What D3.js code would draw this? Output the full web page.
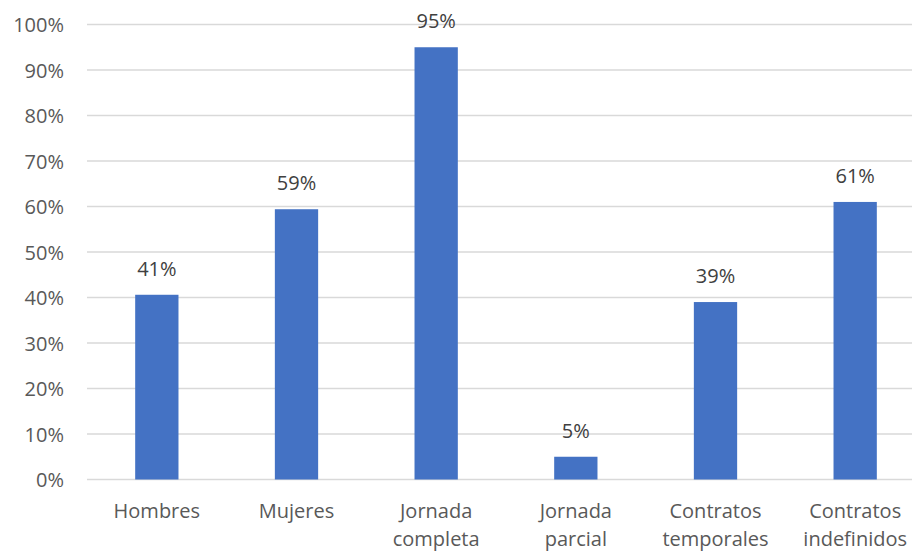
<!DOCTYPE html>
<html>
<head>
<meta charset="utf-8">
<script src="https://cdn.jsdelivr.net/npm/d3@7"></script>
<style>
  html, body { margin: 0; padding: 0; background: #fff; }
  svg { display: block; }
  text { font-family: "Open Sans", sans-serif; }
</style>
</head>
<body>
<svg id="chart" width="912" height="552"></svg>
<script>
const categories = ["Hombres", "Mujeres", "Jornada completa", "Jornada parcial", "Contratos temporales", "Contratos indefinidos"];
const categoryLines = [["Hombres"], ["Mujeres"], ["Jornada", "completa"], ["Jornada", "parcial"], ["Contratos", "temporales"], ["Contratos", "indefinidos"]];
const values = [0.406, 0.594, 0.950, 0.050, 0.390, 0.610];
const valueLabels = ["41%", "59%", "95%", "5%", "39%", "61%"];
const yTicks = [0, 0.1, 0.2, 0.3, 0.4, 0.5, 0.6, 0.7, 0.8, 0.9, 1.0];

(function () {
const svg = d3.select("#chart");
const plotLeft = 87, plotRight = 925, plotTop = 24.5, plotBottom = 479.5;

const x = d3.scaleBand().domain(categories).range([plotLeft, plotRight]).paddingInner(0.69).paddingOuter(0.345);
const y = d3.scaleLinear().domain([0, 1]).range([plotBottom, plotTop]);

// gridlines
svg.append("g").selectAll("line").data(yTicks).join("line")
  .attr("x1", plotLeft).attr("x2", 912)
  .attr("y1", d => y(d)).attr("y2", d => y(d))
  .attr("stroke", "#d9d9d9").attr("stroke-width", 1.5);

// y axis labels
const yAxis = d3.axisLeft(y).tickValues(yTicks).tickFormat(d3.format(".0%")).tickSize(0).tickPadding(0);
const yg = svg.append("g").attr("transform", "translate(64,0)").call(yAxis);
yg.select(".domain").remove();
yg.selectAll("text").attr("font-size", 20).attr("fill", "#595959")
  .attr("font-family", "'Open Sans', sans-serif").attr("dy", "0.35em");

// bars
svg.append("g").selectAll("rect").data(values).join("rect")
  .attr("x", (d, i) => x(categories[i]))
  .attr("width", x.bandwidth())
  .attr("y", d => y(d))
  .attr("height", d => y(0) - y(d))
  .attr("fill", "#4472C4");

// value labels
svg.append("g").selectAll("text").data(values).join("text")
  .attr("x", (d, i) => x(categories[i]) + x.bandwidth() / 2)
  .attr("y", d => y(d) - 19)
  .attr("text-anchor", "middle")
  .attr("font-size", 20).attr("fill", "#404040")
  .text((d, i) => valueLabels[i]);

// category labels
const cg = svg.append("g").selectAll("text").data(categories).join("text")
  .attr("x", d => x(d) + x.bandwidth() / 2)
  .attr("y", 518)
  .attr("text-anchor", "middle")
  .attr("font-size", 20).attr("fill", "#595959");
cg.each(function (d, i) {
  const t = d3.select(this);
  const cx = x(d) + x.bandwidth() / 2;
  categoryLines[i].forEach((line, j) => {
    t.append("tspan").attr("x", cx).attr("dy", j === 0 ? 0 : 28).text(line);
  });
});
})();
</script>
</body>
</html>
